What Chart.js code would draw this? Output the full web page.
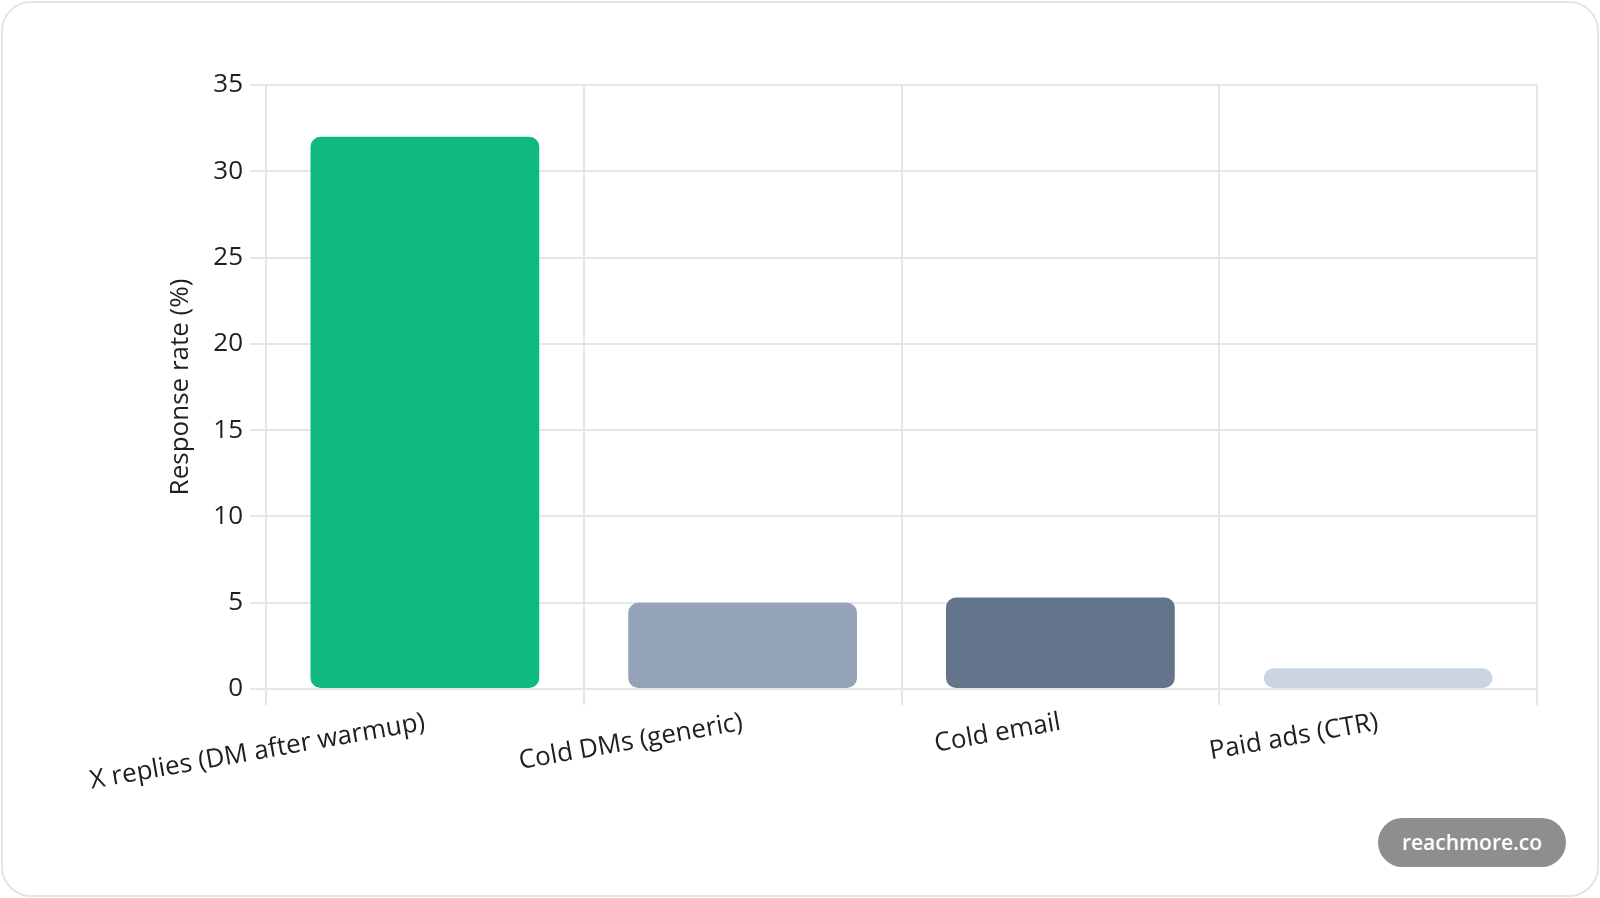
<!DOCTYPE html>
<html>
<head>
<meta charset="utf-8">
<script src="https://cdn.jsdelivr.net/npm/chart.js@4"></script>
<style>
  html, body { margin: 0; padding: 0; background: #fff; }
  .card {
    position: absolute; left: 1px; top: 1px; width: 1594px; height: 892px;
    border: 2px solid #e4e4e4; border-radius: 30px; background: #fff;
  }
  #chart { position: absolute; left: 0; top: 0; }
  .badge {
    position: absolute; left: 1378px; top: 818px; width: 188px; height: 49px;
    border-radius: 25px; background: #8e8e8e; color: #fff;
    font: 600 21px "Open Sans", sans-serif; line-height: 49px; text-align: center;
  }
</style>
</head>
<body>
<div class="card"></div>
<canvas id="chart" width="1600" height="898"></canvas>
<div class="badge">reachmore.co</div>
<script>
// Response rate by outreach channel (%)
const channels = ['X replies (DM after warmup)', 'Cold DMs (generic)', 'Cold email', 'Paid ads (CTR)'];
const responseRates = [32, 5, 5.3, 1.2];
const barColors = ['#10b981', '#94a3b8', '#64748b', '#cbd5e1'];
const yTicks = [0, 5, 10, 15, 20, 25, 30, 35];

const FONT = '"Open Sans", sans-serif';
const TEXT = '#1f1f1f';
const GRID = '#e6e6e6';

const ctx = document.getElementById('chart').getContext('2d');

new Chart(ctx, {
  type: 'bar',
  data: {
    labels: channels,
    datasets: [{
      data: responseRates,
      backgroundColor: barColors,
      borderRadius: 10,
      borderSkipped: false,
    }],
  },
  options: {
    responsive: false,
    animation: false,
    devicePixelRatio: 1,
    layout: { padding: { left: 161, top: 85, right: 63, bottom: 0 } },
    plugins: {
      legend: { display: false },
      tooltip: { enabled: false },
    },
    scales: {
      x: {
        grid: { color: GRID, lineWidth: 2, tickLength: 16 },
        border: { color: GRID, width: 2 },
        ticks: {
          color: TEXT,
          font: { family: FONT, size: 26 },
          minRotation: 10,
          maxRotation: 10,
          padding: 2,
        },
        afterFit(scale) { scale.height = 209; },
      },
      y: {
        min: 0,
        max: 35,
        afterBuildTicks(scale) { scale.ticks = yTicks.map(v => ({ value: v })); },
        grid: { color: GRID, lineWidth: 2, tickLength: 16 },
        border: { color: GRID, width: 2 },
        ticks: {
          color: TEXT,
          font: { family: FONT, size: 26 },
          padding: 7,
        },
        title: {
          display: true,
          text: 'Response rate (%)',
          color: TEXT,
          font: { family: FONT, size: 26 },
        },
        afterFit(scale) { scale.width = 105; },
      },
    },
  },
});
</script>
</body>
</html>
